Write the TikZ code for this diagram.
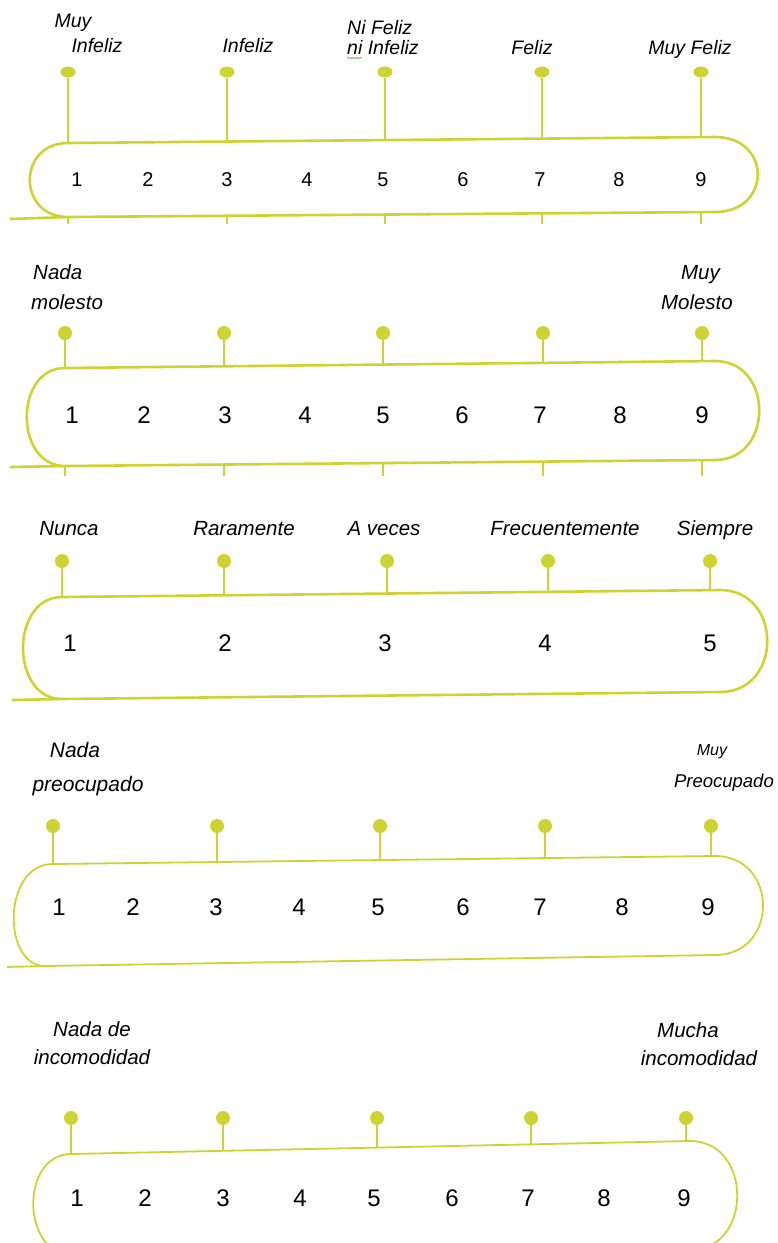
\documentclass[tikz,border=0pt]{standalone}
\usepackage{fontspec}
\setmainfont{Liberation Sans}
\usepackage{tikz}
\usetikzlibrary{shapes,decorations.pathmorphing}
\definecolor{lima}{RGB}{205,211,50}
\tikzset{punto/.style={circle,fill=lima,inner sep=0pt,minimum size=14pt},
	puntoA/.style={ellipse,fill=lima,inner sep=0pt,minimum width=15pt,minimum height=11pt},
	palo/.style={draw=lima,line width=2.6pt},
	caja/.style={draw=lima,fill=white,line width=2.6pt,line join=round},
	cajafina/.style={caja,line width=1.8pt},
	etiqA/.style={font=\fontsize{19.5}{20}\selectfont\itshape,inner sep=0pt,anchor=base},
	etiq/.style={font=\fontsize{20.5}{22}\selectfont\itshape,inner sep=0pt,anchor=base},
	numA/.style={font=\fontsize{20}{22}\selectfont,inner sep=0pt,anchor=base},
	num/.style={font=\fontsize{24}{26}\selectfont,inner sep=0pt,anchor=base}}

\begin{document}
\begin{tikzpicture}[x=1pt,y=-1pt]
	\useasboundingbox (0,0) rectangle (777,1243);
	
	% escala 1
	\node[etiqA] (la1) at (73,27) {Muy};
	\node[etiqA] (la2) at (97,52) {Infeliz};
	\node[etiqA] (la3) at (248,52) {Infeliz};
	\node[etiqA, anchor=base west] (la4) at (347,34) {Ni Feliz};
	\node[etiqA, anchor=base west] (la5) at (347,54) {ni Infeliz};
	\node[etiqA] (la6) at (532,54) {Feliz};
	\node[etiqA] (la7) at (690,54) {Muy Feliz};
	\coordinate (sq1) at (347,58);
	\coordinate (sq2) at (362,58);
	\draw[decorate, decoration={snake,amplitude=0.7pt,segment length=2.5pt}, color=green!50!black!60, line width=0.6pt] (sq1) -- (sq2);
	
	\node[puntoA] (pa1) at (68,72) {};
	\node[puntoA] (pa2) at (227,72) {};
	\node[puntoA] (pa3) at (385,72) {};
	\node[puntoA] (pa4) at (542,72) {};
	\node[puntoA] (pa5) at (701,72) {};
	\coordinate (qa1) at (68,224);
	\coordinate (qa2) at (227,224);
	\coordinate (qa3) at (385,224);
	\coordinate (qa4) at (542,224);
	\coordinate (qa5) at (701,224);
	\draw[palo] (pa1) -- (qa1);
	\draw[palo] (pa2) -- (qa2);
	\draw[palo] (pa3) -- (qa3);
	\draw[palo] (pa4) -- (qa4);
	\draw[palo] (pa5) -- (qa5);
	
	\draw[palo] (10,219) -- (68,217);
	\draw[caja] (68,217) .. controls (17,217) and (17,143) .. (68,143) -- (715,137) .. controls (772,137) and (772,212) .. (715,212) -- cycle;
	
	\node[numA] (na1) at (77,186) {1};
	\node[numA] (na2) at (148,186) {2};
	\node[numA] (na3) at (227,186) {3};
	\node[numA] (na4) at (307,186) {4};
	\node[numA] (na5) at (383,186) {5};
	\node[numA] (na6) at (463,186) {6};
	\node[numA] (na7) at (540,186) {7};
	\node[numA] (na8) at (619,186) {8};
	\node[numA] (na9) at (701,186) {9};
	
	% escala 2
	\node[etiq, anchor=base west] (lb1) at (33,279) {Nada};
	\node[etiq, anchor=base west] (lb2) at (31,309) {molesto};
	\node[etiq, anchor=base east] (lb3) at (720,279) {Muy};
	\node[etiq, anchor=base east] (lb4) at (733,309) {Molesto};
	
	\node[punto] (pb1) at (65,333) {};
	\node[punto] (pb2) at (224,333) {};
	\node[punto] (pb3) at (383,333) {};
	\node[punto] (pb4) at (543,333) {};
	\node[punto] (pb5) at (702,333) {};
	\coordinate (qb1) at (65,476);
	\coordinate (qb2) at (224,476);
	\coordinate (qb3) at (383,476);
	\coordinate (qb4) at (543,476);
	\coordinate (qb5) at (702,476);
	\draw[palo] (pb1) -- (qb1);
	\draw[palo] (pb2) -- (qb2);
	\draw[palo] (pb3) -- (qb3);
	\draw[palo] (pb4) -- (qb4);
	\draw[palo] (pb5) -- (qb5);
	
	\draw[palo] (10,467) -- (65,466);
	\draw[caja] (65,466) .. controls (14,466) and (14,368) .. (65,368) -- (715,361) .. controls (774,361) and (774,460) .. (715,460) -- cycle;
	
	\node[num] (nb1) at (72,423) {1};
	\node[num] (nb2) at (144,423) {2};
	\node[num] (nb3) at (225,423) {3};
	\node[num] (nb4) at (305,423) {4};
	\node[num] (nb5) at (383,423) {5};
	\node[num] (nb6) at (462,423) {6};
	\node[num] (nb7) at (540,423) {7};
	\node[num] (nb8) at (620,423) {8};
	\node[num] (nb9) at (702,423) {9};
	
	% escala 3
	\node[etiq] (lc1) at (69,535) {Nunca};
	\node[etiq] (lc2) at (244,535) {Raramente};
	\node[etiq] (lc3) at (384,535) {A veces};
	\node[etiq] (lc4) at (565,535) {Frecuentemente};
	\node[etiq] (lc5) at (715,535) {Siempre};
	
	\node[punto] (pc1) at (62,561) {};
	\node[punto] (pc2) at (224,561) {};
	\node[punto] (pc3) at (387,561) {};
	\node[punto] (pc4) at (548,561) {};
	\node[punto] (pc5) at (710,561) {};
	\coordinate (qc1) at (62,610);
	\coordinate (qc2) at (224,610);
	\coordinate (qc3) at (387,610);
	\coordinate (qc4) at (548,610);
	\coordinate (qc5) at (710,610);
	\draw[palo] (pc1) -- (qc1);
	\draw[palo] (pc2) -- (qc2);
	\draw[palo] (pc3) -- (qc3);
	\draw[palo] (pc4) -- (qc4);
	\draw[palo] (pc5) -- (qc5);
	
	\draw[palo] (12,700) -- (62,699);
	\draw[caja] (62,699) .. controls (10,699) and (10,597) .. (62,597) -- (720,590) .. controls (783,590) and (783,692) .. (720,692) -- cycle;
	
	\node[num] (nc1) at (70,651) {1};
	\node[num] (nc2) at (225,651) {2};
	\node[num] (nc3) at (385,651) {3};
	\node[num] (nc4) at (545,651) {4};
	\node[num] (nc5) at (710,651) {5};
	
	% escala 4
	\node[etiq, font=\fontsize{21}{22}\selectfont\itshape] (ld1) at (75,757) {Nada};
	\node[etiq, font=\fontsize{21}{22}\selectfont\itshape] (ld2) at (88,791) {preocupado};
	\node[etiq, font=\fontsize{16}{18}\selectfont\itshape] (ld3) at (712,755) {Muy};
	\node[etiq, font=\fontsize{18.5}{20}\selectfont\itshape, anchor=base east] (ld4) at (774,787) {Preocupado};
	
	\node[punto] (pd1) at (53,826) {};
	\node[punto] (pd2) at (217,826) {};
	\node[punto] (pd3) at (380,826) {};
	\node[punto] (pd4) at (545,826) {};
	\node[punto] (pd5) at (711,826) {};
	\coordinate (qd1) at (53,875);
	\coordinate (qd2) at (217,875);
	\coordinate (qd3) at (380,875);
	\coordinate (qd4) at (545,875);
	\coordinate (qd5) at (711,875);
	\draw[palo] (pd1) -- (qd1);
	\draw[palo] (pd2) -- (qd2);
	\draw[palo] (pd3) -- (qd3);
	\draw[palo] (pd4) -- (qd4);
	\draw[palo] (pd5) -- (qd5);
	
	\draw[palo, line width=1.8pt] (7,967) -- (45,966);
	\draw[cajafina] (45,966) .. controls (2,966) and (2,864) .. (53,864) -- (715,856) .. controls (779,856) and (779,955) .. (715,955) -- cycle;
	
	\node[num] (nd1) at (59,915) {1};
	\node[num] (nd2) at (133,915) {2};
	\node[num] (nd3) at (216,915) {3};
	\node[num] (nd4) at (299,915) {4};
	\node[num] (nd5) at (378,915) {5};
	\node[num] (nd6) at (463,915) {6};
	\node[num] (nd7) at (540,915) {7};
	\node[num] (nd8) at (622,915) {8};
	\node[num] (nd9) at (708,915) {9};
	
	% escala 5
	\node[etiq] (le1) at (92,1036) {Nada de};
	\node[etiq] (le2) at (92,1064) {incomodidad};
	\node[etiq] (le3) at (688,1037) {Mucha};
	\node[etiq] (le4) at (699,1065) {incomodidad};
	
	\node[punto] (pe1) at (71,1118) {};
	\node[punto] (pe2) at (223,1118) {};
	\node[punto] (pe3) at (377,1118) {};
	\node[punto] (pe4) at (531,1118) {};
	\node[punto] (pe5) at (686,1118) {};
	\coordinate (qe1) at (71,1165);
	\coordinate (qe2) at (223,1165);
	\coordinate (qe3) at (377,1165);
	\coordinate (qe4) at (531,1165);
	\coordinate (qe5) at (686,1165);
	\draw[palo] (pe1) -- (qe1);
	\draw[palo] (pe2) -- (qe2);
	\draw[palo] (pe3) -- (qe3);
	\draw[palo] (pe4) -- (qe4);
	\draw[palo] (pe5) -- (qe5);
	
	\draw[cajafina] (75,1256) .. controls (20,1256) and (20,1154) .. (71,1154) -- (690,1141) .. controls (753,1141) and (753,1250) .. (690,1250) -- cycle;
	
	\node[num] (ne1) at (77,1206) {1};
	\node[num] (ne2) at (145,1206) {2};
	\node[num] (ne3) at (223,1206) {3};
	\node[num] (ne4) at (300,1206) {4};
	\node[num] (ne5) at (374,1206) {5};
	\node[num] (ne6) at (452,1206) {6};
	\node[num] (ne7) at (528,1206) {7};
	\node[num] (ne8) at (604,1206) {8};
	\node[num] (ne9) at (684,1206) {9};
\end{tikzpicture}
\end{document}
